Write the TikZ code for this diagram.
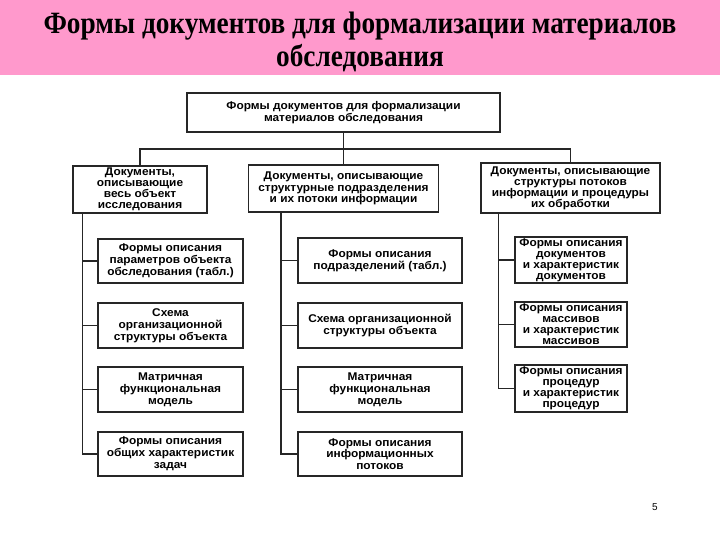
\documentclass[tikz,border=0pt]{standalone}
\usepackage{fontspec}
\setmainfont{Liberation Sans}
\newfontfamily\titlefont{Liberation Serif}[FakeStretch=0.88]
\newfontfamily\boxfont{Liberation Sans}[FakeStretch=1.06]
\definecolor{bandpink}{HTML}{FF99CC}

\begin{document}
\begin{tikzpicture}[x=1pt,y=-1pt,
  box/.style={draw=black!85, line width=1.1pt, align=center, inner sep=0pt,
    font={\boxfont\bfseries\fontsize{11.2}{11.8}\selectfont}},
  tight/.style={font={\boxfont\bfseries\fontsize{11.2}{11}\selectfont}},
  link/.style={draw=black!85, line width=1.1pt}]

\useasboundingbox (0,0) rectangle (720,540);

% title band
\fill[bandpink] (0,0) rectangle (720,75);
\node[align=center, font={\titlefont\bfseries\fontsize{31}{28}\selectfont}] (title) at (360,42)
  {Формы документов для формализации материалов\\[4pt]обследования};

% root and column heads
\node[box, minimum width=313, minimum height=39] (root) at (343.5,112.5)
  {Формы документов для формализации\\материалов обследования};
\node[box, tight, minimum width=134, minimum height=47] (h1) at (140,189.5)
  {Документы,\\описывающие\\весь объект\\исследования};
\node[box, minimum width=190, minimum height=47] (h2) at (343.5,188.5)
  {Документы, описывающие\\структурные подразделения\\и их потоки информации};
\node[box, tight, minimum width=179, minimum height=50] (h3) at (570.5,188)
  {Документы, описывающие\\структуры потоков\\информации и процедуры\\их обработки};
\coordinate (bus) at (343.5,149);

% column 1
\node[box, minimum width=145, minimum height=44] (a1) at (170.5,261)
  {Формы описания\\параметров объекта\\обследования (табл.)};
\node[box, minimum width=145, minimum height=45] (a2) at (170.5,325.5)
  {Схема\\организационной\\структуры объекта};
\node[box, minimum width=145, minimum height=45] (a3) at (170.5,389.5)
  {Матричная\\функциональная\\модель};
\node[box, minimum width=145, minimum height=44] (a4) at (170.5,454)
  {Формы описания\\общих характеристик\\задач};

% column 2
\node[box, minimum width=164, minimum height=45] (b1) at (380,260.5)
  {Формы описания\\подразделений (табл.)};
\node[box, minimum width=164, minimum height=45] (b2) at (380,325.5)
  {Схема организационной\\структуры объекта};
\node[box, minimum width=164, minimum height=45] (b3) at (380,389.5)
  {Матричная\\функциональная\\модель};
\node[box, minimum width=164, minimum height=44] (b4) at (380,454)
  {Формы описания\\информационных\\потоков};

% column 3
\node[box, tight, minimum width=112, minimum height=46] (c1) at (571,260)
  {Формы описания\\документов\\и характеристик\\документов};
\node[box, tight, minimum width=112, minimum height=45] (c2) at (571,324.5)
  {Формы описания\\массивов\\и характеристик\\массивов};
\node[box, tight, minimum width=112, minimum height=47] (c3) at (571,388.5)
  {Формы описания\\процедур\\и характеристик\\процедур};

% connectors
\draw[link] (root.south) -- (h2.north);
\draw[link] (h1.north) |- (bus) -| (h3.north);
\foreach \n in {a1,a2,a3,a4}
  \draw[link] ([xshift=10pt]h1.south west) |- (\n.west);
\foreach \n in {b1,b2,b3,b4}
  \draw[link] ([xshift=33pt]h2.south west) |- (\n.west);
\foreach \n in {c1,c2,c3}
  \draw[link] ([xshift=18pt]h3.south west) |- (\n.west);

\node[font=\fontsize{10}{12}\selectfont] (page) at (655,507) {5};

\end{tikzpicture}
\end{document}
